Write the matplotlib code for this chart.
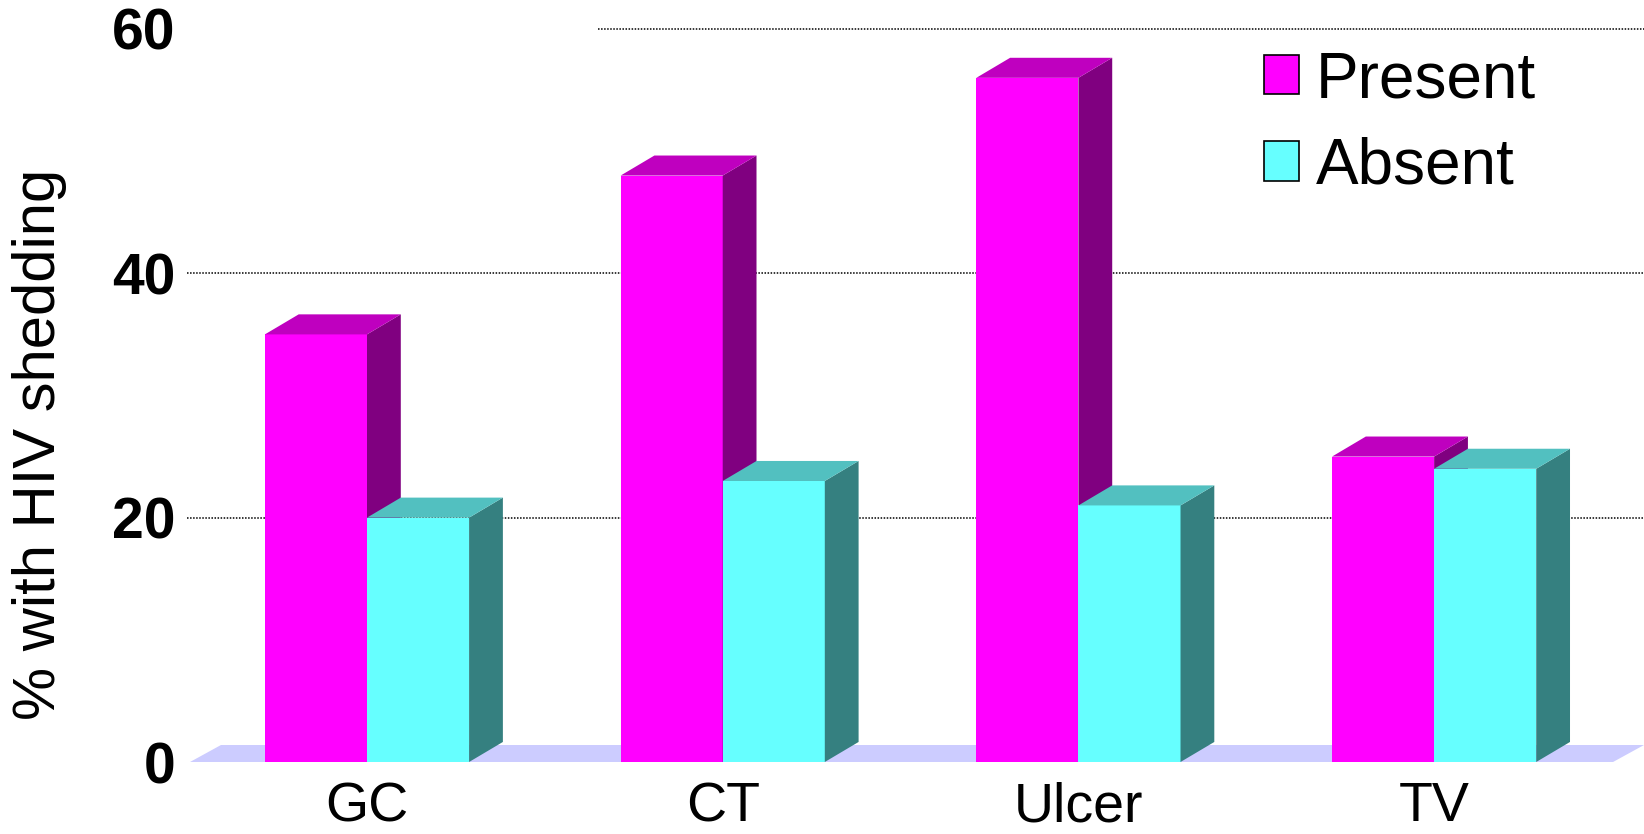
import matplotlib
matplotlib.use("Agg")
import matplotlib.pyplot as plt
from matplotlib.patches import Polygon, Patch

plt.rcParams["font.family"] = ["Liberation Sans", "DejaVu Sans"]

categories = ["GC", "CT", "Ulcer", "TV"]
present = [35, 48, 56, 25]
absent = [20, 23, 21, 24]
series_names = ["Present", "Absent"]
y_ticks = [0, 20, 40, 60]

# colours: front, top, side
present_colors = ("#FF00FF", "#BF00BF", "#800080")
absent_colors = ("#66FFFF", "#52C0C0", "#358080")
floor_color = "#CCCCFF"

W, H = 1644, 834
BAR_W = 0.287
DX = 0.095      # depth offset in x (category units)
DY = 1.64       # depth offset in y (value units)


def draw_box(ax, x, h, colors, z):
    front, top, side = colors
    ax.bar(x, h, width=BAR_W, align="edge", color=front, linewidth=0,
           zorder=z)
    xr = x + BAR_W
    ax.add_patch(Polygon([(xr, 0), (xr + DX, DY), (xr + DX, h + DY), (xr, h)],
                         closed=True, facecolor=side, edgecolor="none",
                         zorder=z))
    ax.add_patch(Polygon([(x, h), (x + DX, h + DY), (xr + DX, h + DY), (xr, h)],
                         closed=True, facecolor=top, edgecolor="none",
                         zorder=z))


fig = plt.figure(figsize=(W / 100, H / 100), dpi=100)
ax = fig.add_axes([190 / W, 72 / H, (W - 190) / W, (H - 72) / H])

x_left = -0.4976
x_right = 3.59
ax.set_xlim(x_left, x_right)
ax.set_ylim(0, 62.37)

# floor
ax.add_patch(Polygon([(x_left, 0), (3.503, 0), (3.59, 1.39), (x_left + 0.087, 1.39)],
                     closed=True, facecolor=floor_color, edgecolor="none",
                     zorder=1, clip_on=False))

# dotted gridlines
ax.hlines([20, 40], -0.506, x_right, colors="black", linestyles=(0, (1, 1)),
          linewidth=1.1, zorder=0.5, clip_on=False)
ax.hlines(60, 0.649, x_right, colors="black", linestyles=(0, (1, 1)),
          linewidth=1.1, zorder=0.5, clip_on=False)

for i in range(len(categories)):
    draw_box(ax, i - BAR_W, present[i], present_colors, 2 + 2 * i)
    draw_box(ax, i, absent[i], absent_colors, 3 + 2 * i)

for s in ax.spines.values():
    s.set_visible(False)

ax.set_yticks(y_ticks)
ax.set_yticklabels([str(t) for t in y_ticks], fontsize=41, fontweight="bold")
ax.tick_params(axis="y", length=0, pad=10.5)
ax.set_xticks(range(len(categories)))
ax.set_xticklabels(categories, fontsize=40)
ax.tick_params(axis="x", length=0, pad=14)

fig.text(40 / W, 1 - 444 / H, "% with HIV shedding", rotation=90,
         ha="center", va="center", fontsize=43)

handles = [Patch(facecolor=present_colors[0], edgecolor="black", linewidth=1.2),
           Patch(facecolor=absent_colors[0], edgecolor="black", linewidth=1.2)]
ax.legend(handles, series_names, loc="upper left",
          bbox_to_anchor=(1264 / W, 1 - 50 / H), bbox_transform=fig.transFigure,
          frameon=False, fontsize=46, borderpad=0, borderaxespad=0,
          handlelength=0.54, handleheight=0.58, handletextpad=0.27,
          labelspacing=0.42)

fig.savefig("out.png", dpi=100)
